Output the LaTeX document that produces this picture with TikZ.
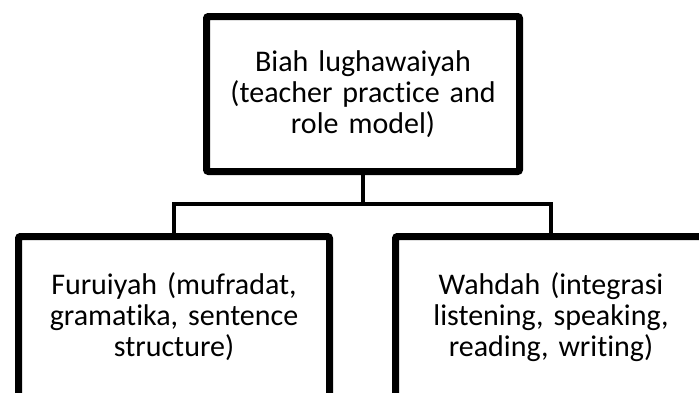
\documentclass[tikz,border=0pt]{standalone}
\usepackage{fontspec}
\setmainfont{Carlito}[Ligatures={NoCommon}]
\usetikzlibrary{shadows}
\tikzset{
  boxnode/.style={draw=black, line width=7pt, fill=white, rounded corners=2pt,
    minimum width=#1, inner sep=0pt, text width=300pt,
    align=center, font=\fontsize{30}{31}\selectfont,
    drop shadow={opacity=0.25, shadow xshift=2pt, shadow yshift=-2pt}},
  conn/.style={draw=black, line width=4pt}
}
\begin{document}
\begin{tikzpicture}[x=1pt,y=-1pt]
\useasboundingbox (0,0) rectangle (699,392);
\clip (0,0) rectangle (699,392);
\fill[white] (0,0) rectangle (699,392);
\coordinate (mid) at (363,204);
\draw[conn] (363,150) -- (mid);
\draw[conn] (174,260) |- (mid) -| (551,260);
\node[boxnode=313pt, minimum height=155pt] (top) at (363,94) {Biah lughawaiyah\\(teacher practice and\\role model)};
\node[boxnode=311pt, minimum height=161pt] (bl) at (174,317) {Furuiyah (mufradat,\\gramatika, sentence\\structure)};
\node[boxnode=311pt, minimum height=161pt] (br) at (551,317) {Wahdah (integrasi\\listening, speaking,\\reading, writing)};
\end{tikzpicture}
\end{document}
